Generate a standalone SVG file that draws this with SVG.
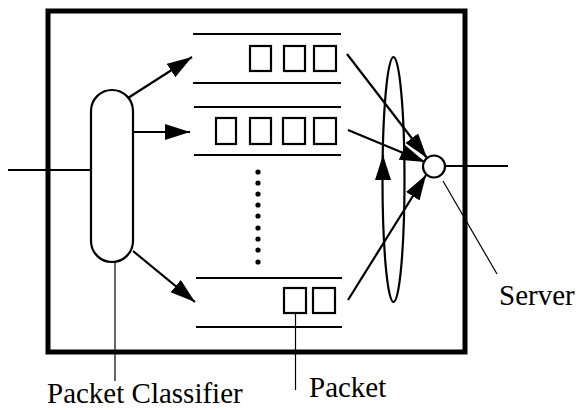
<svg xmlns="http://www.w3.org/2000/svg" width="576" height="410" viewBox="0 0 576 410">
  <style>
    .frame { fill: none; stroke: #000; stroke-width: 5; }
    .ln { fill: none; stroke: #000; stroke-width: 2.2; }
    .thin { fill: none; stroke: #000; stroke-width: 1.2; }
    .pkt { fill: #fff; stroke: #000; stroke-width: 2.2; }
    .dot { fill: #000; }
    text { font-family: 'Liberation Serif', 'DejaVu Serif', serif; font-size: 29px; fill: #000; }
  </style>
  <defs>
    <marker id="head" markerUnits="userSpaceOnUse" markerWidth="27" markerHeight="18" refX="25" refY="8" orient="auto">
      <path d="M0,0 L25,8 L0,16 Z" fill="#000"/>
    </marker>
  </defs>

  <rect id="scheduler-box" class="frame" x="48" y="11" width="417" height="341"/>

  <g id="queue-1">
    <line class="ln" x1="193" y1="34" x2="341" y2="34"/>
    <line class="ln" x1="193" y1="83" x2="341" y2="83"/>
    <rect class="pkt" x="250" y="46" width="21" height="25"/>
    <rect class="pkt" x="284" y="46" width="21" height="25"/>
    <rect class="pkt" x="314" y="46" width="22" height="25"/>
  </g>

  <g id="queue-2">
    <line class="ln" x1="194" y1="107" x2="341" y2="107"/>
    <line class="ln" x1="194" y1="155" x2="341" y2="155"/>
    <rect class="pkt" x="216" y="118" width="20" height="26"/>
    <rect class="pkt" x="250" y="118" width="21" height="26"/>
    <rect class="pkt" x="283" y="118" width="22" height="26"/>
    <rect class="pkt" x="314" y="118" width="22" height="26"/>
  </g>

  <g id="more-queues">
    <circle class="dot" cx="258" cy="172" r="2.6"/>
    <circle class="dot" cx="258" cy="183" r="2.6"/>
    <circle class="dot" cx="258" cy="194" r="2.6"/>
    <circle class="dot" cx="258" cy="205" r="2.6"/>
    <circle class="dot" cx="258" cy="216" r="2.6"/>
    <circle class="dot" cx="258" cy="228" r="2.6"/>
    <circle class="dot" cx="258" cy="239" r="2.6"/>
    <circle class="dot" cx="258" cy="250" r="2.6"/>
    <circle class="dot" cx="258" cy="262" r="2.6"/>
  </g>

  <g id="queue-n">
    <line class="ln" x1="196" y1="278" x2="342" y2="278"/>
    <line class="ln" x1="196" y1="327" x2="342" y2="327"/>
    <rect class="pkt" x="284" y="288" width="22" height="25"/>
    <rect class="pkt" x="313" y="288" width="22" height="25"/>
  </g>

  <g id="round-robin">
    <ellipse class="ln" cx="393.5" cy="179.5" rx="11" ry="122.5"/>
  </g>

  <g id="connectors">
    <line class="ln" x1="8" y1="170" x2="92" y2="170"/>
    <line class="ln" x1="128" y1="98" x2="192" y2="57" marker-end="url(#head)"/>
    <line class="ln" x1="133" y1="132" x2="190" y2="132" marker-end="url(#head)"/>
    <line class="ln" x1="133" y1="251" x2="195" y2="302" marker-end="url(#head)"/>
    <line class="ln" x1="347" y1="54" x2="427" y2="158" marker-end="url(#head)"/>
    <line class="ln" x1="348" y1="130" x2="425" y2="162" marker-end="url(#head)"/>
    <line class="ln" x1="348" y1="300" x2="426" y2="175" marker-end="url(#head)"/>
    <line class="ln" x1="383" y1="176" x2="383" y2="155" marker-end="url(#head)"/>
    <line class="ln" x1="445" y1="166" x2="508" y2="166"/>
  </g>

  <g id="classifier">
    <path class="ln" d="M91,111 A21,21 0 0 1 133,111 L133,241 A21,21 0 0 1 91,241 Z" fill="#fff"/>
    <line class="thin" x1="115" y1="262" x2="115" y2="381"/>
    <text x="47" y="403">Packet Classifier</text>
  </g>

  <g id="server">
    <circle class="ln" cx="434" cy="166.5" r="11" fill="#fff"/>
    <line class="thin" x1="443" y1="181" x2="497" y2="274"/>
    <text x="499" y="305">Server</text>
  </g>

  <g id="packet-label">
    <line class="thin" x1="295.5" y1="313" x2="295.5" y2="390"/>
    <text x="309" y="397">Packet</text>
  </g>
</svg>
